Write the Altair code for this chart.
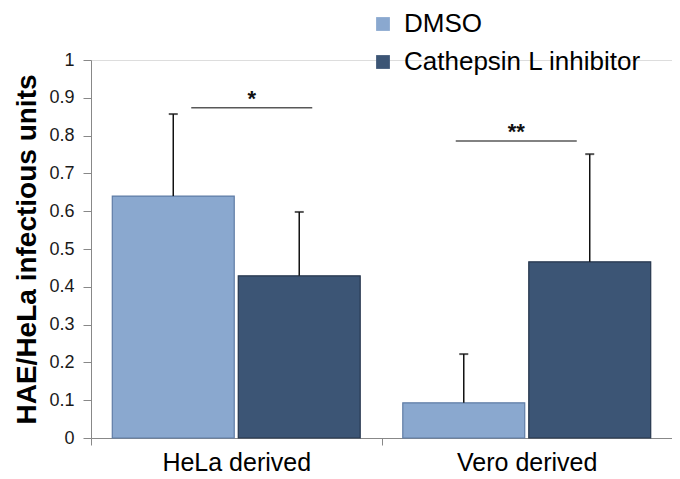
import altair as alt
import pandas as pd

groups = ["HeLa derived", "Vero derived"]
treatments = ["DMSO", "Cathepsin L inhibitor"]
means_dmso = [0.640, 0.093]
means_catl = [0.429, 0.466]
upper_dmso = [0.857, 0.222]
upper_catl = [0.598, 0.751]

sig_groups = ["HeLa derived", "Vero derived"]
sig_levels = [0.874, 0.786]
sig_labels = ["*", "**"]

y_ticks = [0, 0.1, 0.2, 0.3, 0.4, 0.5, 0.6, 0.7, 0.8, 0.9, 1]

fill_colors = ["#8AA8CF", "#3C5575"]
stroke_colors = ["#5F7CA6", "#26364D"]

rows = []
for i, g in enumerate(groups):
    rows.append({"group": g, "treatment": treatments[0], "mean": means_dmso[i], "upper": upper_dmso[i]})
    rows.append({"group": g, "treatment": treatments[1], "mean": means_catl[i], "upper": upper_catl[i]})
df = pd.DataFrame(rows)

sig_df = pd.DataFrame({"group": sig_groups, "level": sig_levels, "label": sig_labels})

FONT = "Liberation Sans"

x_enc = alt.X(
    "group:N",
    sort=groups,
    scale=alt.Scale(paddingInner=0, paddingOuter=0),
    axis=alt.Axis(
        title=None, labelAngle=0, labelFontSize=25, labelColor="black",
        labelFont=FONT, tickBand="extent", tickSize=7, tickColor="#888888",
        domainColor="#888888", labelPadding=5,
    ),
)
xoff_enc = alt.XOffset(
    "treatment:N", sort=treatments,
    scale=alt.Scale(paddingInner=0.032, paddingOuter=0.169),
)
y_scale = alt.Scale(domain=[0, 1], nice=False, zero=True)
y_axis = alt.Axis(
    title="HAE/HeLa infectious units", titleFontSize=28, titleFontWeight="bold",
    titleColor="black", titleFont=FONT, labelFont=FONT, labelFontSize=18,
    labelColor="#1a1a1a", values=y_ticks, format=".1~f",
    labelOverlap=False, grid=False, domainColor="#888888", tickColor="#888888",
    tickSize=8, labelPadding=9, titlePadding=7,
)

base = alt.Chart(df)

bars = base.mark_bar(strokeWidth=1.2).encode(
    x=x_enc,
    xOffset=xoff_enc,
    y=alt.Y("mean:Q", scale=y_scale, axis=y_axis),
    color=alt.Color(
        "treatment:N", sort=treatments,
        scale=alt.Scale(domain=treatments, range=fill_colors),
        legend=alt.Legend(
            title=None, orient="none", legendX=279, legendY=-49, symbolType="square",
            symbolSize=190, symbolStrokeWidth=0, labelFontSize=26, labelFont=FONT,
            labelColor="black", rowPadding=12, labelOffset=8, labelLimit=400,
        ),
    ),
    stroke=alt.Stroke(
        "treatment:N", sort=treatments,
        scale=alt.Scale(domain=treatments, range=stroke_colors), legend=None,
    ),
)

err = base.mark_rule(color="#111111", strokeWidth=1.5).encode(
    x=x_enc, xOffset=xoff_enc, y=alt.Y("mean:Q", scale=y_scale, axis=y_axis), y2="upper:Q"
)
caps = base.mark_tick(orient="horizontal", size=9, thickness=2, color="#111111").encode(
    x=x_enc, xOffset=xoff_enc, y=alt.Y("upper:Q", scale=y_scale, axis=y_axis)
)

sig_layers = []
sig_shift = [15.5, -10.5]
for i, g in enumerate(sig_groups):
    d = alt.Chart(sig_df.iloc[[i]])
    line = d.mark_tick(orient="horizontal", size=121, thickness=1.5, color="#111111",
                       xOffset=sig_shift[i]).encode(
        x=x_enc, y=alt.Y("level:Q", scale=y_scale, axis=y_axis)
    )
    txt = d.mark_text(fontSize=22, font=FONT, fontWeight="bold", color="#111111",
                      baseline="alphabetic", dy=-2, xOffset=sig_shift[i]).encode(
        x=x_enc, y=alt.Y("level:Q", scale=y_scale, axis=y_axis), text="label:N"
    )
    sig_layers += [line, txt]

chart = alt.layer(bars, err, caps, *sig_layers).properties(
    width=581, height=378,
    autosize=alt.AutoSizeParams(type="none"),
    padding={"left": 83, "top": 52, "right": 0, "bottom": 38},
).configure_view(stroke=None).configure(font=FONT)

chart.save("out.html", embed_options={"renderer": "svg", "actions": False})
